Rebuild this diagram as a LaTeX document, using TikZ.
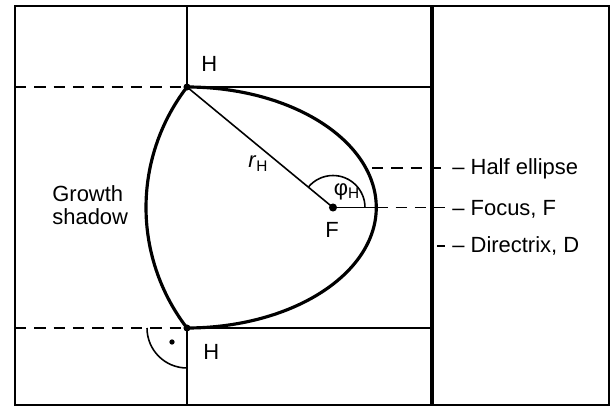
\documentclass[tikz,border=0pt]{standalone}
\usepackage{fontspec}
\setmainfont{Liberation Sans}
\usetikzlibrary{angles}

\begin{document}
\begin{tikzpicture}[x=0.02cm, y=-0.02cm,
  thinline/.style={line width=0.9pt},
  frameline/.style={line width=1.2pt},
  curveline/.style={line width=1.8pt},
  dirline/.style={line width=2.4pt},
  guide/.style={line width=0.9pt, dash pattern=on 6.5pt off 4.5pt},
  lbl/.style={font=\fontsize{12.5}{13.6}\selectfont, inner sep=0pt}]
\useasboundingbox (0,0) rectangle (613,412);
% frame and directrix
\draw[frameline] (15,6) rectangle (609,405);
\coordinate (Dtop) at (432,6);
\coordinate (Dbot) at (432,405);
\draw[dirline] (Dtop) -- (Dbot);
% H points and the lines through them
\coordinate (Ht) at (187,87);
\coordinate (Hb) at (187,328);
\coordinate (F) at (333,207.5);
\coordinate (V) at (376.3,207.5);
\draw[thinline] (187,6) -- (Ht);
\draw[thinline] (Hb) -- (187,405);
\draw[guide] (15,87) -- (Ht);
\draw[thinline] (Ht) -- (432,87);
\draw[guide] (15,328) -- (Hb);
\draw[thinline] (Hb) -- (432,328);
% half ellipse and growth shadow boundary
\draw[curveline, smooth, samples=90, variable=\t]
  plot[domain=-90:90] ({187+189.3*cos(\t)},{207.5+120.5*sin(\t)});
\draw[curveline, smooth, samples=60, variable=\t]
  plot[domain=142.6:217.4] ({343.6+197.6*cos(\t)},{207.5+197.6*sin(\t)});
% radius and angle at the focus
\draw[thinline] (Ht) -- (F);
\draw[thinline] (F) -- (V);
\draw pic[draw, thinline, angle radius=0.64cm] {angle=V--F--Ht};
\node[lbl] (phi) at (347,192) {φ\textsubscript{H}};
\node[lbl, anchor=base west] (rH) at (248,168) {\textit{r}\textsubscript{H}};
% right angle at the lower H
\coordinate (Lft) at (147,328);
\coordinate (Dwn) at (187,368);
\draw pic[draw, thinline, angle radius=0.8cm] {angle=Lft--Hb--Dwn};
\fill (172,342) circle[radius=1.5pt];
% points
\fill (Ht) circle[radius=2pt];
\fill (Hb) circle[radius=2pt];
\fill (F) circle[radius=2.3pt];
\node[lbl, anchor=base west] (Htl) at (201,72) {H};
\node[lbl, anchor=base west] (Hbl) at (203,360) {H};
\node[lbl, anchor=base west] (Fl) at (325,238) {F};
\node[lbl, anchor=base west, align=left] (shadow) at (52,225) {Growth\\shadow};
% labels on the right
\coordinate (He) at (372,168);
\coordinate (Hee) at (445,168);
\draw[guide] (He) -- (Hee);
\node[lbl, anchor=base west] (halfell) at (452,175) {– Half ellipse};
\coordinate (Fe) at (445,207.5);
\draw[guide] (V) -- (Fe);
\node[lbl, anchor=base west] (focus) at (452,216) {– Focus, F};
\coordinate (De) at (437,246);
\coordinate (Dee) at (445,246);
\draw[thinline] (De) -- (Dee);
\node[lbl, anchor=base west] (directrix) at (452,253) {– Directrix, D};
\end{tikzpicture}
\end{document}
